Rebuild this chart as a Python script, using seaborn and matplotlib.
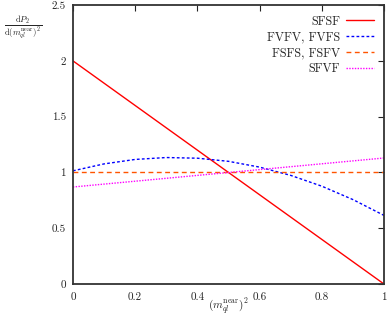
"""Recreate the dP2 / d(m^2) comparison chart."""

import matplotlib

matplotlib.use("Agg")
import matplotlib.pyplot as plt
import pandas as pd
import seaborn as sns

LABELS = ["SFSF", "FVFV, FVFS", "FSFS, FSFV", "SFVF"]

SFSF_X = [0.0, 1.0]
SFSF_Y = [2.0, 0.0]

FVFV_X = [0.0, 0.1, 0.2, 0.3, 0.4, 0.5, 0.6, 0.7, 0.8, 0.9, 1.0]
FVFV_Y = [1.015, 1.077, 1.117, 1.134, 1.128, 1.100, 1.048, 0.974, 0.877, 0.757, 0.615]

FSFS_X = [0.0, 1.0]
FSFS_Y = [1.0, 1.0]

SFVF_X = [0.0, 1.0]
SFVF_Y = [0.87, 1.13]

X_TICKS = [0, 0.2, 0.4, 0.6, 0.8, 1]
X_TICK_LABELS = ["0", "0.2", "0.4", "0.6", "0.8", "1"]
Y_TICKS = [0, 0.5, 1, 1.5, 2, 2.5]
Y_TICK_LABELS = ["0", "0.5", "1", "1.5", "2", "2.5"]

COLORS = ["#ff0000", "#0000ff", "#ff5500", "#ff00ff"]
DASHES = ["", (2, 1.6), (3.5, 2.5), (1, 1)]


def main():
    sns.set_style("white")
    plt.rcParams["font.family"] = "serif"
    plt.rcParams["font.serif"] = ["cmr10", "DejaVu Serif"]
    plt.rcParams["mathtext.fontset"] = "cm"
    plt.rcParams["axes.formatter.use_mathtext"] = True

    frames = []
    for label, xs, ys in zip(
        LABELS,
        [SFSF_X, FVFV_X, FSFS_X, SFVF_X],
        [SFSF_Y, FVFV_Y, FSFS_Y, SFVF_Y],
    ):
        frames.append(pd.DataFrame({"x": xs, "y": ys, "curve": label}))
    df = pd.concat(frames, ignore_index=True)

    fig = plt.figure(figsize=(3.9, 3.15), dpi=100)
    ax = fig.add_axes([0.187, 0.098, 0.798, 0.886])
    sns.lineplot(
        data=df, x="x", y="y", hue="curve", style="curve",
        hue_order=LABELS, style_order=LABELS,
        palette=dict(zip(LABELS, COLORS)),
        dashes=dict(zip(LABELS, DASHES)),
        linewidth=1.0, ax=ax, sort=False,
    )

    ax.set_xlim(0, 1)
    ax.set_ylim(0, 2.5)
    ax.set_xticks(X_TICKS)
    ax.set_xticklabels(X_TICK_LABELS)
    ax.set_yticks(Y_TICKS)
    ax.set_yticklabels(Y_TICK_LABELS)
    ax.tick_params(direction="in", length=4, width=0.8, labelsize=8,
                   top=True, right=True, pad=5, colors="#222222")
    ax.tick_params(axis="x", pad=6)
    for spine in ax.spines.values():
        spine.set_linewidth(1.3)
        spine.set_color("#333333")

    ax.set_xlabel(r"$(m_{ql}^{\mathrm{near}})^2$", fontsize=8, labelpad=-4)
    ax.set_ylabel("")
    fig.text(0.06, 0.915, r"$\frac{\mathrm{d}P_2}{\mathrm{d}(m_{ql}^{\mathrm{near}})^2}$",
             fontsize=9, ha="center", va="center")

    ax.legend(loc="upper right", frameon=False, markerfirst=False, fontsize=8.8,
              handlelength=2.25, handletextpad=0.5, labelspacing=0.3,
              borderaxespad=0.45, bbox_to_anchor=(1.0, 1.0))

    fig.savefig("out.png", dpi=100)


if __name__ == "__main__":
    main()
